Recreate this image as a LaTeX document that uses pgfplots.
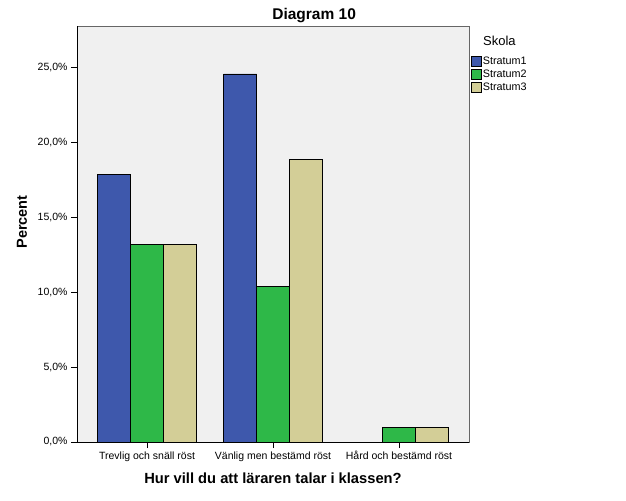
\documentclass[border=0pt]{standalone}
\usepackage{pgfplots}
\pgfplotsset{compat=1.18}
\usepackage{fontspec}
\setmainfont{Liberation Sans}
\definecolor{sblue}{RGB}{62,88,172}
\definecolor{sgreen}{RGB}{46,184,72}
\definecolor{stan}{RGB}{211,206,151}
\definecolor{sbg}{RGB}{240,240,240}
\begin{document}
\begin{tikzpicture}
\path[use as bounding box] (-77bp,-59bp) rectangle (549bp,442bp);
\begin{axis}[
  at={(0,0)}, anchor=south west,
  scale only axis, width=392bp, height=416bp,
  xmin=-0.556, xmax=2.556, ymin=0, ymax=27.8,
  ybar=0pt, bar width=33bp,
  axis background/.style={fill=sbg, draw=gray!80!black},
  axis x line*=bottom, axis y line*=left,
  axis line style={-, black, line width=0.8bp},
  xtick={0,1,2},
  xticklabels={Trevlig och snäll röst, Vänlig men bestämd röst, Hård och bestämd röst},
  ytick={0,5,10,15,20,25},
  yticklabels={{0,0\%},{5,0\%},{10,0\%},{15,0\%},{20,0\%},{25,0\%}},
  tick align=outside, major tick length=6bp,
  tick style={black, line width=0.8bp},
  ticklabel style={font=\fontsize{10.5bp}{12bp}\selectfont},
  /pgf/number format/assume math mode=true,
  xlabel={Hur vill du att läraren talar i klassen?},
  xlabel style={font=\bfseries\fontsize{14.7bp}{16bp}\selectfont, at={(axis description cs:0.5,0)}, anchor=base, yshift=-41bp},
  ylabel={Percent},
  ylabel style={font=\bfseries\fontsize{14.5bp}{16bp}\selectfont, at={(axis description cs:0,0.529)}, anchor=center, yshift=55bp},
  title={Diagram 10},
  title style={font=\bfseries\fontsize{15.5bp}{17bp}\selectfont, at={(axis description cs:0.605,1)}, anchor=base, yshift=1bp},
  clip=false,
  legend style={at={(1,1)}, anchor=north west, xshift=2bp, yshift=-30bp, draw=none, fill=none, inner sep=0pt,
    font=\fontsize{10.8bp}{12bp}\selectfont, row sep=2bp, nodes={inner sep=1bp}},
  legend image code/.code={\draw[#1, draw=black] (0bp,-5bp) rectangle (10bp,5bp);},
  legend cell align=left,
]
\addplot[fill=sblue, draw=black, line width=0.6bp] coordinates {(0,17.9) (1,24.6)};
\addplot[fill=sgreen, draw=black, line width=0.6bp] coordinates {(0,13.2) (1,10.4) (2,1.0)};
\addplot[fill=stan, draw=black, line width=0.6bp] coordinates {(0,13.2) (1,18.9) (2,1.0)};
\legend{Stratum1, Stratum2, Stratum3}
\node[anchor=base west, inner sep=0pt, font=\fontsize{13bp}{15bp}\selectfont, xshift=14bp, yshift=-20bp] at (rel axis cs:1,1) {Skola};
\end{axis}
\end{tikzpicture}
\end{document}
